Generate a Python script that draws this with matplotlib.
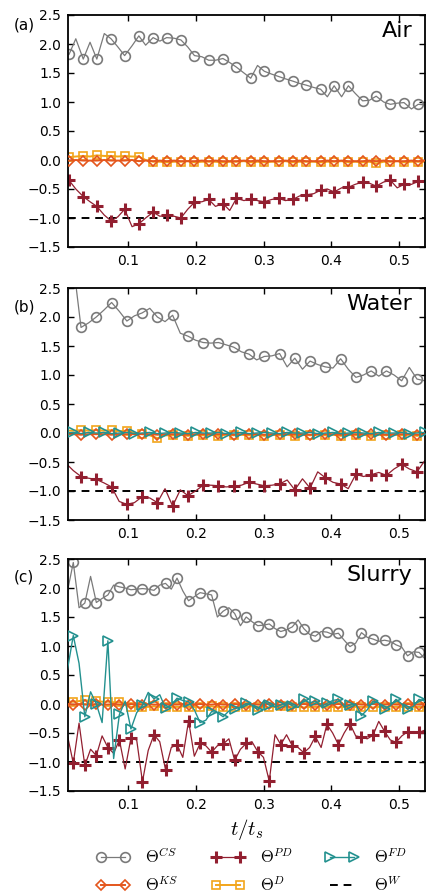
# Three panels of Theta terms against t/t_s (Air, Water, Slurry)
import numpy as np
import matplotlib
matplotlib.use('Agg')
import matplotlib.pyplot as plt
from matplotlib.lines import Line2D

plt.rcParams.update({'mathtext.fontset': 'cm', 'font.family': 'DejaVu Sans'})

# ---------------- data ----------------
# panel (a) Air
t_a = [0.013, 0.023, 0.034, 0.044, 0.054, 0.065, 0.075, 0.085, 0.095, 0.106,
       0.116, 0.126, 0.137, 0.147, 0.157, 0.168, 0.178, 0.188, 0.198, 0.209,
       0.219, 0.229, 0.240, 0.250, 0.260, 0.271, 0.281, 0.291, 0.301, 0.312,
       0.322, 0.332, 0.343, 0.353, 0.363, 0.374, 0.384, 0.394, 0.404, 0.415,
       0.425, 0.435, 0.446, 0.456, 0.466, 0.477, 0.487, 0.497, 0.507, 0.518,
       0.528, 0.538]
cs_a = [1.82, 2.09, 1.74, 2.03, 1.74, 2.18, 2.09, 1.95, 1.80, 1.97,
        2.14, 1.98, 2.11, 2.05, 2.11, 2.10, 2.07, 1.95, 1.80, 1.78,
        1.72, 1.72, 1.75, 1.68, 1.60, 1.50, 1.41, 1.63, 1.53, 1.48,
        1.44, 1.40, 1.36, 1.32, 1.29, 1.25, 1.22, 1.09, 1.28, 1.09,
        1.28, 1.15, 1.02, 1.03, 1.10, 1.00, 0.96, 0.98, 0.99, 0.88,
        0.96, 0.95]
pd_a = [-0.35, -0.50, -0.63, -0.72, -0.80, -0.95, -1.05, -0.98, -0.85, -1.15,
        -1.10, -1.00, -0.90, -0.97, -0.95, -0.97, -1.00, -0.85, -0.73, -0.72,
        -0.68, -0.80, -0.75, -0.87, -0.66, -0.70, -0.67, -0.70, -0.72, -0.68,
        -0.66, -0.70, -0.68, -0.62, -0.60, -0.58, -0.52, -0.50, -0.55, -0.48,
        -0.47, -0.42, -0.38, -0.40, -0.45, -0.38, -0.35, -0.48, -0.42, -0.42,
        -0.37, -0.36]
ks_a = [-0.01, 0.00, -0.01, -0.01, -0.01, 0.00, -0.01, -0.01, -0.01, 0.00,
        -0.02, -0.01, -0.02, -0.01, -0.02, -0.01, -0.02, -0.02, -0.02, -0.01,
        -0.02, -0.01, -0.02, -0.02, -0.02, -0.01, -0.02, -0.01, -0.02, -0.02,
        -0.02, -0.01, -0.02, -0.01, -0.02, -0.02, -0.02, -0.01, -0.02, -0.01,
        -0.02, -0.02, -0.02, -0.01, -0.02, -0.01, -0.02, -0.02, -0.02, -0.01,
        -0.02, -0.01]
d_a = [0.05, 0.06, 0.07, 0.06, 0.08, 0.07, 0.07, 0.06, 0.07, 0.06,
       0.06, 0.00, -0.03, -0.03, -0.04, -0.03, -0.03, -0.02, -0.04, -0.03,
       -0.03, -0.03, -0.04, -0.03, -0.03, -0.02, -0.04, -0.03, -0.04, -0.03,
       -0.03, -0.02, -0.04, -0.03, -0.03, -0.03, -0.04, -0.03, -0.03, -0.02,
       -0.04, -0.03, -0.04, -0.03, -0.06, -0.03, -0.03, -0.02, -0.04, -0.03,
       -0.03, -0.03]

# panel (b) Water
t_b = [0.0082, 0.0195, 0.0307, 0.0420, 0.0532, 0.0645, 0.0758, 0.0870, 0.0983, 0.1095,
       0.1208, 0.1321, 0.1433, 0.1546, 0.1658, 0.1771, 0.1884, 0.1996, 0.2109, 0.2221,
       0.2334, 0.2447, 0.2559, 0.2672, 0.2784, 0.2897, 0.3010, 0.3122, 0.3235, 0.3347,
       0.3460, 0.3573, 0.3685, 0.3798, 0.3910, 0.4023, 0.4136, 0.4248, 0.4361, 0.4473,
       0.4586, 0.4699, 0.4811, 0.4924, 0.5036, 0.5149, 0.5262, 0.5374]
cs_b = [2.25, 2.90, 1.82, 1.90, 2.00, 2.12, 2.25, 2.10, 1.93, 2.02,
        2.07, 2.15, 2.00, 1.92, 2.03, 1.72, 1.67, 1.60, 1.56, 1.55,
        1.56, 1.52, 1.48, 1.40, 1.36, 1.26, 1.32, 1.33, 1.37, 1.14,
        1.29, 1.10, 1.24, 1.18, 1.14, 1.12, 1.28, 1.10, 0.96, 1.00,
        1.07, 0.98, 1.07, 1.00, 0.90, 1.13, 0.93, 0.90]
pd_b = [-0.52, -0.65, -0.75, -0.78, -0.80, -0.86, -0.93, -1.18, -1.23, -1.20,
        -1.10, -1.12, -1.20, -0.96, -1.26, -0.98, -1.08, -1.00, -0.90, -0.90,
        -0.91, -0.93, -0.92, -0.90, -0.85, -0.88, -0.91, -0.90, -0.88, -0.81,
        -0.98, -0.79, -0.95, -0.67, -0.77, -0.85, -0.88, -0.96, -0.71, -0.75,
        -0.72, -0.68, -0.73, -0.62, -0.54, -0.62, -0.67, -0.48]
ks_b = [-0.02, -0.02, -0.03, -0.02, -0.02, -0.02, -0.03, -0.02, -0.02, -0.02,
        -0.02, -0.02, -0.03, -0.02, -0.02, -0.02, -0.03, -0.02, -0.02, -0.02,
        -0.02, -0.02, -0.03, -0.02, -0.02, -0.02, -0.03, -0.02, -0.02, -0.02,
        -0.02, -0.02, -0.03, -0.02, -0.02, -0.02, -0.03, -0.02, -0.02, -0.02,
        -0.02, -0.02, -0.03, -0.02, -0.02, -0.02, -0.03, -0.02]
d_b = [0.04, 0.04, 0.05, 0.04, 0.05, 0.04, 0.05, 0.03, 0.04, 0.00,
       -0.02, -0.04, -0.09, -0.04, -0.04, -0.03, -0.05, -0.03, -0.04, -0.03,
       -0.05, -0.03, -0.04, -0.03, -0.04, -0.03, -0.05, -0.03, -0.04, -0.03,
       -0.05, -0.03, -0.04, -0.03, -0.04, -0.03, -0.05, -0.03, -0.04, -0.03,
       -0.05, -0.03, -0.04, -0.03, -0.04, -0.03, -0.05, -0.03]
fd_b = [0.00, 0.01, -0.01, 0.01, 0.00, 0.01, -0.01, 0.00, 0.01, -0.01,
        0.00, 0.01, -0.01, 0.00, 0.01, 0.00, -0.01, 0.01, 0.00, 0.00,
        0.01, -0.01, 0.00, 0.01, -0.01, 0.00, 0.01, 0.00, -0.01, 0.01,
        0.00, 0.00, 0.01, -0.01, 0.00, 0.01, -0.01, 0.00, 0.01, 0.00,
        -0.01, 0.01, 0.00, 0.00, 0.01, -0.01, 0.00, 0.01]

# panel (c) Slurry
t_c = [0.0108, 0.0193, 0.0278, 0.0363, 0.0448, 0.0533, 0.0618, 0.0703, 0.0788, 0.0873,
       0.0958, 0.1043, 0.1128, 0.1213, 0.1298, 0.1383, 0.1468, 0.1553, 0.1638, 0.1723,
       0.1808, 0.1893, 0.1978, 0.2063, 0.2148, 0.2233, 0.2318, 0.2403, 0.2488, 0.2573,
       0.2658, 0.2743, 0.2828, 0.2913, 0.2998, 0.3083, 0.3168, 0.3253, 0.3338, 0.3423,
       0.3508, 0.3593, 0.3678, 0.3763, 0.3848, 0.3933, 0.4018, 0.4103, 0.4188, 0.4273,
       0.4358, 0.4443, 0.4528, 0.4613, 0.4698, 0.4783, 0.4868, 0.4953, 0.5038, 0.5123,
       0.5208, 0.5293, 0.5378]
cs_c = [1.95, 2.44, 1.66, 1.74, 2.20, 1.75, 1.82, 1.88, 2.05, 2.02,
        2.00, 1.97, 1.98, 1.99, 1.98, 1.96, 2.05, 2.08, 1.98, 2.17,
        1.95, 1.78, 1.85, 1.92, 1.90, 1.88, 1.50, 1.60, 1.66, 1.56,
        1.35, 1.50, 1.42, 1.35, 1.36, 1.38, 1.30, 1.25, 1.28, 1.33,
        1.45, 1.30, 1.20, 1.17, 1.25, 1.24, 1.20, 1.22, 1.10, 0.99,
        1.05, 1.23, 1.15, 1.12, 1.08, 1.10, 1.08, 1.02, 0.98, 0.83,
        0.90, 0.89, 0.78]
pd_c = [-0.55, -1.02, -0.33, -1.06, -0.78, -0.89, -0.55, -0.75, -0.85, -0.62,
        -1.12, -0.59, -0.62, -1.34, -0.80, -0.53, -0.65, -1.13, -0.75, -0.70,
        -0.92, -0.29, -0.90, -0.68, -0.72, -0.83, -0.72, -0.69, -0.60, -0.97,
        -0.78, -0.68, -0.65, -0.82, -0.92, -1.33, -0.53, -0.70, -0.53, -0.72,
        -0.75, -0.84, -0.75, -0.56, -0.75, -0.35, -0.50, -0.70, -0.50, -0.34,
        -0.55, -0.57, -0.60, -0.54, -0.30, -0.47, -0.62, -0.66, -0.55, -0.48,
        -0.50, -0.49, -0.45]
ks_c = [0.00, -0.01, 0.00, -0.01, -0.01, 0.00, -0.01, -0.01, 0.00, -0.01,
        -0.01, 0.00, -0.01, -0.01, 0.00, -0.01, -0.01, 0.00, -0.01, -0.01,
        0.00, -0.01, -0.01, 0.00, -0.01, -0.01, 0.00, -0.01, -0.01, 0.00,
        -0.01, -0.01, 0.00, -0.01, -0.01, 0.00, -0.01, -0.01, 0.00, -0.01,
        -0.01, 0.00, -0.01, -0.01, 0.00, -0.01, -0.01, 0.00, -0.01, -0.01,
        0.00, -0.01, -0.01, 0.00, -0.01, -0.01, 0.00, -0.01, -0.01, 0.00,
        -0.01, -0.01, 0.00]
d_c = [0.04, 0.04, 0.05, 0.07, 0.05, 0.05, 0.04, 0.04, 0.03, 0.03,
       0.00, -0.05, -0.04, -0.05, -0.05, -0.04, -0.05, -0.06, -0.05, -0.05,
       -0.04, -0.05, -0.05, -0.06, -0.05, -0.04, -0.05, -0.05, -0.05, -0.06,
       -0.05, -0.05, -0.04, -0.05, -0.05, -0.06, -0.05, -0.04, -0.05, -0.05,
       -0.05, -0.06, -0.05, -0.05, -0.04, -0.05, -0.05, -0.06, -0.05, -0.04,
       -0.05, -0.05, -0.05, -0.06, -0.05, -0.05, -0.04, -0.05, -0.05, -0.06,
       -0.05, -0.05, -0.05]
fd_c = [0.60, 1.18, 0.70, -0.22, 0.21, 0.00, -0.32, 1.09, -0.94, -0.18,
        0.05, -0.43, -0.15, -0.02, 0.20, 0.09, 0.16, -0.07, -0.02, 0.10,
        0.06, 0.04, -0.10, -0.32, -0.28, -0.13, -0.15, -0.22, -0.12, -0.08,
        -0.05, 0.01, -0.02, -0.10, 0.05, -0.02, -0.05, -0.02, 0.03, -0.03,
        -0.06, 0.08, 0.02, 0.05, -0.04, 0.01, 0.06, 0.08, -0.05, -0.02,
        0.00, -0.20, -0.10, 0.05, 0.02, -0.08, -0.03, 0.08, 0.00, -0.09,
        -0.04, 0.08, 0.05]

theta_w = -1.0
names = ['Air', 'Water', 'Slurry']
letters = ['(a)', '(b)', '(c)']

# colours
c_cs = '#7a7a7a'
c_pd = '#921f30'
c_fd = '#23918f'
c_ks = '#e4561c'
c_d = '#f2a51a'

# ---------------- plotting ----------------
fig = plt.figure(figsize=(4.26, 8.94), dpi=100)
tops = [15, 288, 559]
letter_y = [25, 307, 577]
H, W = 894.0, 426.0


def draw_panel(ax, t, cs, pd, ks, d, fd, me, me_fd):
    ax.plot(t, cs, color=c_cs, lw=0.9, marker='o', mfc='none', mec=c_cs,
            ms=7, mew=1.2, markevery=me)
    ax.plot(t, ks, color=c_ks, lw=1.4, marker='D', mfc='none', mec=c_ks,
            ms=5.5, mew=1.2, markevery=me, zorder=3)
    ax.plot(t, pd, color=c_pd, lw=0.9, marker='+', ms=9, mew=2.2,
            markevery=me)
    ax.plot(t, d, color=c_d, lw=1.4, marker='s', mfc='none', mec=c_d,
            ms=6, mew=1.2, markevery=me, zorder=2)
    if fd is not None:
        ax.plot(t, fd, color=c_fd, lw=1.0, marker='>', mfc='none', mec=c_fd,
                ms=7, mew=1.2, markevery=me_fd, zorder=4)
    ax.axhline(theta_w, color='k', lw=1.4, ls='--', dashes=(4, 3), zorder=1)


# first point of panel (b) lies just left of the axes, so markers start at index 2
panels = [(t_a, cs_a, pd_a, ks_a, d_a, None, (0, 2), (0, 2)),
          (t_b, cs_b, pd_b, ks_b, d_b, fd_b, (2, 2), (1, 2)),
          (t_c, cs_c, pd_c, ks_c, d_c, fd_c, (1, 2), (1, 2))]

axes = []
for i, p in enumerate(panels):
    top = tops[i]
    ax = fig.add_axes([68 / W, 1 - (top + 232) / H, 357 / W, 232 / H])
    draw_panel(ax, *p)
    ax.set_xlim(0.0115, 0.538)
    ax.set_ylim(-1.5, 2.5)
    ax.set_yticks(np.arange(-1.5, 2.51, 0.5))
    ax.set_xticks([0.1, 0.2, 0.3, 0.4, 0.5])
    ax.tick_params(direction='in', length=4, width=1, labelsize=10,
                   top=True, right=True, pad=5)
    for s in ax.spines.values():
        s.set_linewidth(1.3)
    ax.text(0.965, 0.93, names[i], transform=ax.transAxes, ha='right',
            va='center', fontsize=16)
    fig.text(14 / W, 1 - letter_y[i] / H, letters[i], ha='left', va='center',
             fontsize=11)
    axes.append(ax)

axes[2].set_xlabel(r'$t/t_s$', fontsize=15, labelpad=4)

# legend
h_cs = Line2D([], [], color=c_cs, lw=0.9, marker='o', mfc='none', mec=c_cs, ms=7, mew=1.2)
h_ks = Line2D([], [], color=c_ks, lw=1.4, marker='D', mfc='none', mec=c_ks, ms=5.5, mew=1.2)
h_pd = Line2D([], [], color=c_pd, lw=0.9, marker='+', ms=9, mew=2.2)
h_d = Line2D([], [], color=c_d, lw=1.4, marker='s', mfc='none', mec=c_d, ms=6, mew=1.2)
h_fd = Line2D([], [], color=c_fd, lw=1.0, marker='>', mfc='none', mec=c_fd, ms=7, mew=1.2)
h_w = Line2D([], [], color='k', lw=1.4, ls='--', dashes=(4, 3))
fig.legend([h_cs, h_ks, h_pd, h_d, h_fd, h_w],
           [r'$\Theta^{CS}$', r'$\Theta^{KS}$', r'$\Theta^{PD}$',
            r'$\Theta^{D}$', r'$\Theta^{FD}$', r'$\Theta^{W}$'],
           ncol=3, loc='lower center', bbox_to_anchor=(0.59, -0.018),
           frameon=False, numpoints=2, fontsize=12, handlelength=2.0,
           columnspacing=2.0, handletextpad=0.9, labelspacing=0.55)

fig.savefig('out.png', dpi=100)
